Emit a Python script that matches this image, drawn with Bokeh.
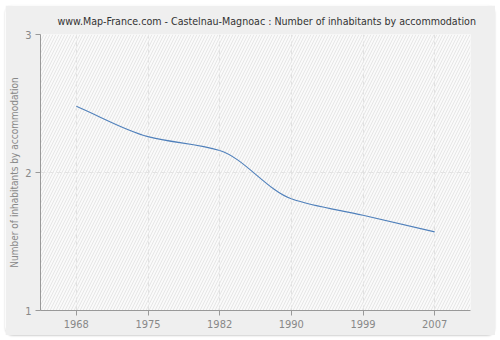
import numpy as np
from bokeh.plotting import figure
from bokeh.models import BoxAnnotation, Title, FixedTicker
from bokeh.embed import file_html
from bokeh.resources import INLINE

years = ["1968", "1975", "1982", "1990", "1999", "2007"]
values = [2.48, 2.26, 2.16, 1.81, 1.69, 1.57]
y_ticks = [1, 2, 3]

FONT = "DejaVu Sans Condensed"
xs = list(range(len(years)))

p = figure(width=490, height=330, output_backend="svg", toolbar_location=None,
           x_range=(-0.5, 5.5), y_range=(1, 3),
           frame_width=430, frame_height=276,
           min_border_left=35, min_border_top=29, min_border_right=25, min_border_bottom=25,
           background_fill_color="#fafafa", border_fill_color="#efefef",
           outline_line_color=None)
p.margin = (5, 6, 5, 5)
p.styles = {"border-radius": "8px", "box-shadow": "0 1px 2px #d0d0d0"}

p.title = Title(text="www.Map-France.com - Castelnau-Magnoac : Number of inhabitants by accommodation",
                text_font=FONT, text_font_size="10.6px", text_font_style="normal",
                text_color="#333333", align="left", offset=17, standoff=12,
                vertical_align="top", text_line_height=0.6)

hatch = BoxAnnotation(fill_alpha=0, line_alpha=0, hatch_pattern="/", hatch_color="#e6e6e6",
                      hatch_scale=6, hatch_weight=1, level="underlay")
p.add_layout(hatch)

# monotone cubic smoothing rendered as bezier segments
x = np.array(xs, dtype=float)
y = np.array(values, dtype=float)
h = np.diff(x)
d = np.diff(y) / h
m = np.zeros_like(y)
m[0] = d[0]
m[-1] = d[-1]
for i in range(1, len(y) - 1):
    if d[i - 1] * d[i] <= 0:
        m[i] = 0
    else:
        m[i] = 2 / (1 / d[i - 1] + 1 / d[i])
p.bezier(x0=x[:-1], y0=y[:-1], x1=x[1:], y1=y[1:],
         cx0=x[:-1] + h / 3, cy0=y[:-1] + m[:-1] * h / 3,
         cx1=x[1:] - h / 3, cy1=y[1:] - m[1:] * h / 3,
         line_color="#5080bb", line_width=1.1)

for ax in (p.xaxis[0], p.yaxis[0]):
    ax.axis_line_color = "#999999"
    ax.major_tick_line_color = "#999999"
    ax.major_tick_out = 5
    ax.major_tick_in = 0
    ax.minor_tick_line_color = None
    ax.major_label_text_font = FONT
    ax.major_label_text_font_size = "11px"
    ax.major_label_text_color = "#888888"
    ax.major_label_standoff = 4

p.xaxis.ticker = FixedTicker(ticks=xs)
p.xaxis.major_label_overrides = {i: yr for i, yr in enumerate(years)}
p.yaxis.ticker = FixedTicker(ticks=y_ticks)
p.yaxis.axis_label = "Number of inhabitants by accommodation"
p.yaxis.axis_label_text_font = FONT
p.yaxis.axis_label_text_font_size = "10px"
p.yaxis.axis_label_text_font_style = "normal"
p.yaxis.axis_label_text_color = "#888888"
p.yaxis.axis_label_standoff = 2

for g in (p.xgrid[0], p.ygrid[0]):
    g.grid_line_color = "#e2e2e2"
    g.grid_line_dash = "5 3"
    g.grid_line_width = 1

open("out.html", "w").write(file_html(p, INLINE))
